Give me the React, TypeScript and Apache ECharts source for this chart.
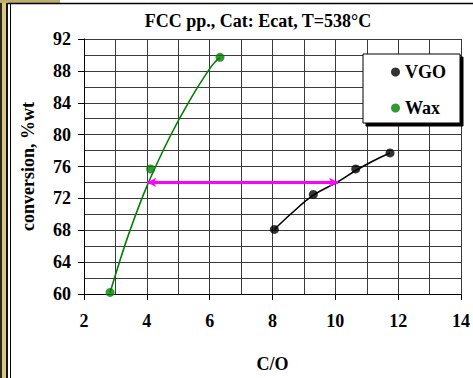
import React, { useEffect, useRef } from "react";
import * as echarts from "echarts";

const titleText = "FCC pp., Cat: Ecat, T=538°C";
const xName = "C/O";
const yName = "conversion, %wt";

const vgoPoints: [number, number][] = [
  [8.06, 68.1],
  [9.3, 72.5],
  [10.65, 75.7],
  [11.74, 77.7],
];
const waxPoints: [number, number][] = [
  [2.83, 60.2],
  [4.12, 75.7],
  [6.33, 89.7],
];
// trend curves
const vgoCurve: [number, number][] = [
  [8.06, 68.1],
  [8.6, 70.1],
  [9.3, 72.4],
  [10.09, 74.1],
  [10.65, 75.5],
  [11.2, 76.7],
  [11.74, 77.7],
];
const waxCurve: [number, number][] = [
  [2.83, 60.2],
  [3.12, 63.9],
  [3.44, 67.7],
  [4.0, 73.5],
  [4.73, 79.7],
  [5.38, 84.4],
  [6.06, 88.6],
  [6.33, 89.7],
];
const arrowFrom: [number, number] = [4.01, 74];
const arrowTo: [number, number] = [10.09, 74];

const FONT = "'Liberation Serif', 'Times New Roman', serif";

export default function App() {
  const ref = useRef<HTMLDivElement>(null);
  useEffect(() => {
    if (!ref.current) return;
    const chart = echarts.init(ref.current, undefined, { renderer: "svg" });
    const gridColor = "#3a3a3a";
    chart.setOption({
      animation: false,
      backgroundColor: "#ffffff",
      grid: { left: 84, right: 7, top: 39, bottom: 84, containLabel: false },
      xAxis: {
        type: "value",
        min: 2,
        max: 14,
        interval: 2,
        name: xName,
        nameLocation: "middle",
        nameGap: 61,
        nameTextStyle: { fontFamily: FONT, fontWeight: "bold", fontSize: 18, color: "#000" },
        axisLine: { show: true, lineStyle: { color: "#000", width: 1 } },
        axisTick: { show: true, length: 6, lineStyle: { color: "#000" } },
        axisLabel: { margin: 18, fontFamily: FONT, fontWeight: "bold", fontSize: 18, color: "#000" },
        splitLine: { show: true, lineStyle: { color: gridColor, width: 1 } },
        minorTick: { show: false, splitNumber: 2 },
        minorSplitLine: { show: true, lineStyle: { color: gridColor, width: 1 } },
      },
      yAxis: {
        type: "value",
        min: 60,
        max: 92,
        interval: 4,
        name: yName,
        nameLocation: "middle",
        nameGap: 47,
        nameTextStyle: { fontFamily: FONT, fontWeight: "bold", fontSize: 18, color: "#000" },
        axisLine: { show: true, lineStyle: { color: "#000", width: 1 } },
        axisTick: { show: true, length: 6, lineStyle: { color: "#000" } },
        axisLabel: { margin: 13, fontFamily: FONT, fontWeight: "bold", fontSize: 18, color: "#000" },
        splitLine: { show: true, lineStyle: { color: gridColor, width: 1 } },
        minorTick: { show: false, splitNumber: 2 },
        minorSplitLine: { show: true, lineStyle: { color: gridColor, width: 1 } },
      },
      legend: {
        orient: "vertical",
        left: 363,
        top: 54,
        data: ["VGO", "Wax"],
        backgroundColor: "#ffffff",
        borderColor: "#000",
        borderWidth: 1,
        borderRadius: 0,
        shadowColor: "#000",
        shadowBlur: 0,
        shadowOffsetX: 3,
        shadowOffsetY: 3,
        padding: [9, 14, 6, 28],
        itemGap: 18,
        itemWidth: 9,
        itemHeight: 9,
        icon: "circle",
        textStyle: { fontFamily: FONT, fontWeight: "bold", fontSize: 18, color: "#000", lineHeight: 18 },
        selectedMode: false,
      },
      graphic: [
        { type: "rect", shape: { x: 0, y: 0, width: 8, height: 378 }, style: { fill: "#d8c684" } },
        { type: "line", shape: { x1: 1, y1: 0, x2: 1, y2: 378 }, style: { stroke: "#2a2a1a", lineWidth: 2 } },
        { type: "line", shape: { x1: 7, y1: 0, x2: 7, y2: 378 }, style: { stroke: "#111", lineWidth: 2 } },
        { type: "line", shape: { x1: 10.5, y1: 3, x2: 10.5, y2: 378 }, style: { stroke: "#000", lineWidth: 1 } },
        { type: "rect", shape: { x: 0, y: 0, width: 60, height: 3 }, style: { fill: "#bfae6a" } },
        { type: "line", shape: { x1: 8, y1: 3.5, x2: 473, y2: 3.5 }, style: { stroke: "#000", lineWidth: 1.5 } },
        {
          type: "text",
          x: 258,
          y: 21,
          style: {
            text: titleText,
            fontFamily: FONT,
            fontWeight: "bold",
            fontSize: 18,
            fill: "#000",
            textAlign: "center",
            textVerticalAlign: "middle",
          },
        },
      ],
      series: [
        {
          type: "line",
          data: waxCurve,
          smooth: 0.4,
          showSymbol: false,
          symbol: "none",
          lineStyle: { color: "#008000", width: 1.6 },
          silent: true,
          z: 2,
        },
        {
          type: "line",
          data: vgoCurve,
          smooth: 0.4,
          showSymbol: false,
          symbol: "none",
          lineStyle: { color: "#000", width: 1.6 },
          silent: true,
          z: 2,
          markLine: {
            silent: true,
            symbol: ["arrow", "arrow"],
            symbolSize: [7, 9],
            label: { show: false },
            lineStyle: { color: "#ff00ff", width: 3, type: "solid" },
            data: [[{ coord: arrowFrom }, { coord: arrowTo }]],
          },
        },
        {
          name: "VGO",
          type: "scatter",
          data: vgoPoints,
          symbol: "circle",
          symbolSize: 9,
          itemStyle: { color: "#000" },
          z: 3,
        },
        {
          name: "Wax",
          type: "scatter",
          data: waxPoints,
          symbol: "circle",
          symbolSize: 9,
          itemStyle: { color: "#008000" },
          z: 3,
        },
      ],
    });
    return () => chart.dispose();
  }, []);
  return (
    <div
      ref={ref}
      style={{ position: "fixed", left: 0, top: 0, width: 473, height: 378 }}
    />
  );
}
